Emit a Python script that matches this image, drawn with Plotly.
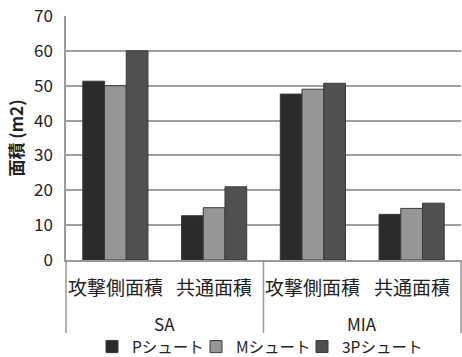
import plotly.graph_objects as go

groups = ["SA", "SA", "MIA", "MIA"]
categories = ["攻撃側面積", "共通面積", "攻撃側面積", "共通面積"]
group_names = ["SA", "MIA"]
series_names = ["Pシュート", "Mシュート", "3Pシュート"]
p_values = [51.3, 12.7, 47.6, 13.1]
m_values = [50.0, 15.0, 49.0, 14.8]
p3_values = [60.0, 21.0, 50.7, 16.3]
colors = ["#2b2b2b", "#969696", "#505050"]
y_ticks = [0, 10, 20, 30, 40, 50, 60, 70]

font_family = "Noto Sans CJK JP, Noto Sans, sans-serif"

legend_ids = ["legend", "legend2", "legend3"]
legend_left = [92, 196, 302]

fig = go.Figure()
for name, vals, col, lid in zip(series_names, [p_values, m_values, p3_values], colors, legend_ids):
    fig.add_trace(go.Bar(
        x=[groups, categories], y=vals, name=name, legend=lid,
        marker=dict(color=col, line=dict(color="#3a3a3a", width=1)),
    ))

n = len(categories)
annotations = []
for i, c in enumerate(categories):
    annotations.append(dict(text=c, xref="paper", yref="paper", x=(i + 0.5) / n, y=-0.107,
                            xanchor="center", yanchor="middle", showarrow=False,
                            font=dict(size=19, color="#222222")))
for j, g in enumerate(group_names):
    annotations.append(dict(text=g, xref="paper", yref="paper", x=(j + 0.5) / len(group_names), y=-0.262,
                            xanchor="center", yanchor="middle", showarrow=False,
                            font=dict(size=17, color="#222222")))
shapes = []
for k in range(len(group_names) + 1):
    xp = k / len(group_names)
    shapes.append(dict(type="line", xref="paper", yref="paper", x0=xp, x1=xp, y0=0, y1=-0.299,
                       line=dict(color="#999999", width=1.5)))

legend_common = dict(orientation="h", xref="container", xanchor="left",
                     yref="container", y=0.028, yanchor="middle",
                     font=dict(size=15.5, color="#222222"), itemwidth=30,
                     bgcolor="rgba(0,0,0,0)")

fig.update_layout(
    width=462, height=357,
    margin=dict(l=66, r=1, t=16, b=97),
    paper_bgcolor="white", plot_bgcolor="white",
    barmode="group", bargap=0.34, bargroupgap=0,
    font=dict(family=font_family, color="#222222"),
    showlegend=True,
    legend=dict(x=legend_left[0] / 462, **legend_common),
    legend2=dict(x=legend_left[1] / 462, **legend_common),
    legend3=dict(x=legend_left[2] / 462, **legend_common),
    annotations=annotations,
    shapes=shapes,
    xaxis=dict(
        type="multicategory", automargin=False, showticklabels=False,
        showline=True, linecolor="#999999", linewidth=1.5,
        showgrid=False, ticks="",
    ),
    yaxis=dict(
        range=[0, 70], tickvals=y_ticks, automargin=False,
        tickfont=dict(size=17, color="#222222"),
        ticklabelstandoff=8,
        showgrid=True, gridcolor="#a0a0a0", gridwidth=1.5,
        showline=True, linecolor="#999999", linewidth=1.5,
        zeroline=False, ticks="", ticklen=0,
        title=dict(text="<b>面積 (m2)</b>", font=dict(size=17, color="#222222"), standoff=6),
    ),
)

fig.write_html("out.html")
